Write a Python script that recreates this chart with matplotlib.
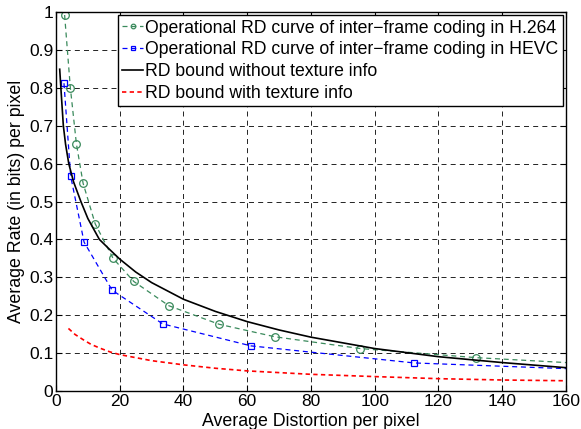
import matplotlib.pyplot as plt

plt.rcParams['font.family'] = ['Liberation Sans', 'DejaVu Sans']

# H.264 operational RD points (last value = where line leaves the axes)
h264_x = [2.7, 4.5, 6.4, 8.5, 12.3, 17.9, 24.4, 35.4, 51.2, 68.7, 95.5, 131.8, 160]
h264_y = [0.992, 0.80, 0.652, 0.548, 0.441, 0.350, 0.289, 0.225, 0.176, 0.143, 0.112, 0.088, 0.075]
# HEVC operational RD points
hevc_x = [2.5, 4.6, 8.8, 17.6, 33.5, 61.2, 112.4, 160]
hevc_y = [0.812, 0.567, 0.393, 0.266, 0.177, 0.119, 0.074, 0.059]
# RD bound without texture info
nt_x = [1.16, 1.6, 2.3, 3.0, 4.0, 5.5, 7.8, 10, 13.6, 17, 20, 25, 30, 40, 50, 60, 70, 80, 100, 120, 140, 160]
nt_y = [0.849, 0.79, 0.70, 0.651, 0.60, 0.552, 0.50, 0.455, 0.40, 0.372, 0.348, 0.314, 0.286, 0.242, 0.21, 0.183, 0.161, 0.142, 0.112, 0.0905, 0.075, 0.0615]
# RD bound with texture info
wt_x = [3.9, 6, 8.6, 11, 13.8, 17, 20, 30, 40, 50, 60, 80, 100, 120, 140, 160]
wt_y = [0.165, 0.149, 0.135, 0.123, 0.113, 0.103, 0.096, 0.080, 0.069, 0.060, 0.053, 0.044, 0.038, 0.0325, 0.029, 0.027]

labels = ['Operational RD curve of inter\u2212frame coding in H.264',
          'Operational RD curve of inter\u2212frame coding in HEVC',
          'RD bound without texture info',
          'RD bound with texture info']

fig = plt.figure(figsize=(5.81, 4.29), dpi=100)
ax = fig.add_axes([0.0964, 0.0886, 0.8777, 0.8834])

green = '#3a8a5c'
ax.plot(h264_x, h264_y, '--', color=green, lw=0.9, dashes=(4, 3),
        marker='o', ms=5.5, mfc='none', mec=green, mew=0.9,
        markevery=list(range(len(h264_x) - 1)), label=labels[0])
ax.plot(hevc_x, hevc_y, '--', color='blue', lw=0.9, dashes=(4, 3),
        marker='s', ms=4.5, mfc='none', mec='blue', mew=0.9,
        markevery=list(range(len(hevc_x) - 1)), label=labels[1])
ax.plot(nt_x, nt_y, '-', color='black', lw=1.2, label=labels[2])
ax.plot(wt_x, wt_y, '--', color='red', lw=1.2, dashes=(2.6, 2), label=labels[3])

ax.set_xlim(0, 160)
ax.set_ylim(0, 1)
ax.set_xticks(range(0, 161, 20))
ax.set_yticks([i / 10 for i in range(11)])
ax.set_yticklabels(['0', '0.1', '0.2', '0.3', '0.4', '0.5', '0.6', '0.7', '0.8', '0.9', '1'])
ax.tick_params(direction='in', length=4, labelsize=12.5, top=True, right=True, pad=2)
ax.grid(True, color='black', linestyle=(0, (6, 5)), linewidth=0.6)
for s in ax.spines.values():
    s.set_linewidth(1.0)

ax.set_xlabel('Average Distortion per pixel', fontsize=12.8, labelpad=3)
ax.set_ylabel('Average Rate (in bits) per pixel', fontsize=12.8, labelpad=3)

leg = ax.legend(loc='upper right', fontsize=12.7, frameon=True, fancybox=False,
                edgecolor='black', framealpha=1, borderpad=0.25, labelspacing=0.27,
                handlelength=1.2, handletextpad=0.12, borderaxespad=0.18, markerscale=0.6)
leg.get_frame().set_linewidth(1.0)

fig.savefig('out.png', dpi=100)
